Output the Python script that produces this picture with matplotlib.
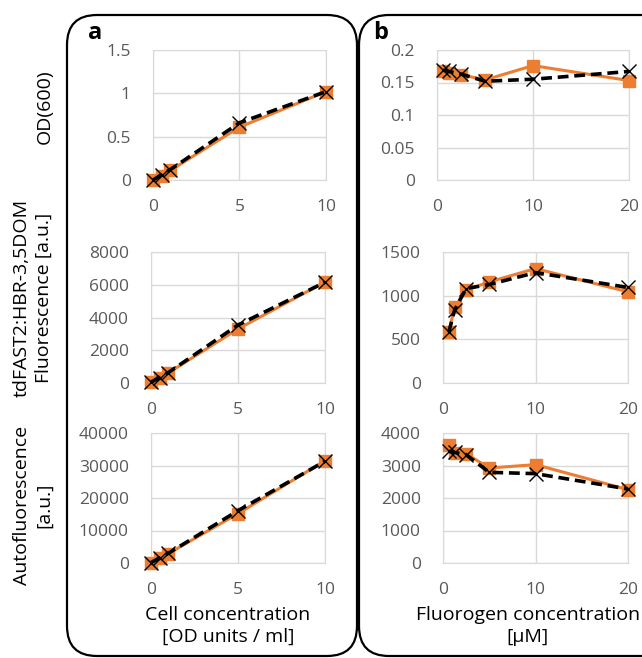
import matplotlib.pyplot as plt
from matplotlib.patches import FancyBboxPatch

plt.rcParams['font.family'] = ['Open Sans', 'DejaVu Sans']

# panel a: cell concentration series
cell_x = [0, 0.5, 1, 5, 10]
od_a_orange = [0.0, 0.05, 0.11, 0.61, 1.02]
od_a_black = [0.0, 0.06, 0.12, 0.66, 1.02]
fl_a_orange = [50, 300, 620, 3300, 6170]
fl_a_black = [60, 320, 640, 3540, 6150]
auto_a_orange = [100, 1400, 2900, 15200, 31500]
auto_a_black = [150, 1500, 3000, 16100, 31300]

# panel b: fluorogen concentration series
fluo_x = [0.625, 1.25, 2.5, 5, 10, 20]
od_b_orange = [0.168, 0.165, 0.162, 0.154, 0.176, 0.153]
od_b_black = [0.169, 0.167, 0.163, 0.152, 0.155, 0.167]
fl_b_orange = [581, 866, 1063, 1158, 1310, 1044]
fl_b_black = [581, 835, 1082, 1128, 1264, 1094]
auto_b_orange = [3640, 3385, 3364, 2923, 3026, 2256]
auto_b_black = [3436, 3405, 3333, 2790, 2749, 2277]

W, H = 642, 658
fig = plt.figure(figsize=(W / 100, H / 100), dpi=100)

# background frame layer in pixel coordinates
bg = fig.add_axes([0, 0, 1, 1], zorder=-1)
bg.set_xlim(0, W)
bg.set_ylim(H, 0)
bg.axis('off')
for x0, x1 in [(67, 357), (359, 700)]:
    bg.add_patch(FancyBboxPatch((x0, 15), x1 - x0, 641, boxstyle='round,pad=0,rounding_size=30',
                                fill=False, lw=1.6, ec='black'))

orange = '#ED7D31'
grey = '#595959'
grid = '#D9D9D9'


def add_panel(box, x, yo, yb, xticks, xlim, yticks, ytlabels):
    x0, y0, x1, y1 = box
    ax = fig.add_axes([x0 / W, 1 - y1 / H, (x1 - x0) / W, (y1 - y0) / H])
    ax.plot(x, yo, color=orange, lw=2.2, marker='s', ms=8.5, zorder=3, clip_on=False)
    ax.plot(x, yb, color='black', lw=2.6, ls=(0, (3, 1.6)), marker='x', ms=10,
            mew=1.0, mec='black', zorder=4, clip_on=False)
    ax.set_xlim(*xlim)
    ax.set_ylim(yticks[0], yticks[-1])
    ax.set_xticks(xticks)
    ax.set_yticks(yticks)
    ax.set_yticklabels(ytlabels)
    ax.grid(True, color=grid, lw=1)
    ax.set_axisbelow(True)
    for s in ax.spines.values():
        s.set_color(grid)
    ax.tick_params(length=0, labelsize=12.5, colors=grey)
    ax.tick_params(axis='x', pad=14)
    ax.tick_params(axis='y', pad=16)
    return ax


add_panel((153, 50, 326, 180), cell_x, od_a_orange, od_a_black, [0, 5, 10], (0, 10),
          [0, 0.5, 1, 1.5], ['0', '0.5', '1', '1.5'])
add_panel((151, 252, 325, 383), cell_x, fl_a_orange, fl_a_black, [0, 5, 10], (0, 10),
          [0, 2000, 4000, 6000, 8000], ['0', '2000', '4000', '6000', '8000'])
add_panel((151, 433, 325, 563), cell_x, auto_a_orange, auto_a_black, [0, 5, 10], (0, 10),
          [0, 10000, 20000, 30000, 40000], ['0', '10000', '20000', '30000', '40000'])
add_panel((437, 50, 629, 180), fluo_x, od_b_orange, od_b_black, [0, 10, 20], (0, 20),
          [0, 0.05, 0.1, 0.15, 0.2], ['0', '0.05', '0.1', '0.15', '0.2'])
add_panel((443, 252, 628, 383), fluo_x, fl_b_orange, fl_b_black, [0, 10, 20], (0, 20),
          [0, 500, 1000, 1500], ['0', '500', '1000', '1500'])
add_panel((443, 433, 628, 563), fluo_x, auto_b_orange, auto_b_black, [0, 10, 20], (0, 20),
          [0, 1000, 2000, 3000, 4000], ['0', '1000', '2000', '3000', '4000'])

# panel letters and axis titles
bg.text(95, 33, 'a', fontsize=17, fontweight='bold', ha='center', va='center')
bg.text(381, 33, 'b', fontsize=17, fontweight='bold', ha='center', va='center')
bg.text(45, 107, 'OD(600)', fontsize=14, rotation=90, ha='center', va='center')
bg.text(33, 298, 'tdFAST2:HBR-3,5DOM\nFluorescence [a.u.]', fontsize=14, rotation=90,
        ha='center', va='center', linespacing=1.25)
bg.text(33, 505, 'Autofluorescence\n[a.u.]', fontsize=14, rotation=90,
        ha='center', va='center', linespacing=1.25)
bg.text(228, 626, 'Cell concentration\n[OD units / ml]', fontsize=14,
        ha='center', va='center', linespacing=1.25)
bg.text(528, 626, 'Fluorogen concentration\n[µM]', fontsize=14,
        ha='center', va='center', linespacing=1.25)

fig.savefig('out.png', dpi=100)
